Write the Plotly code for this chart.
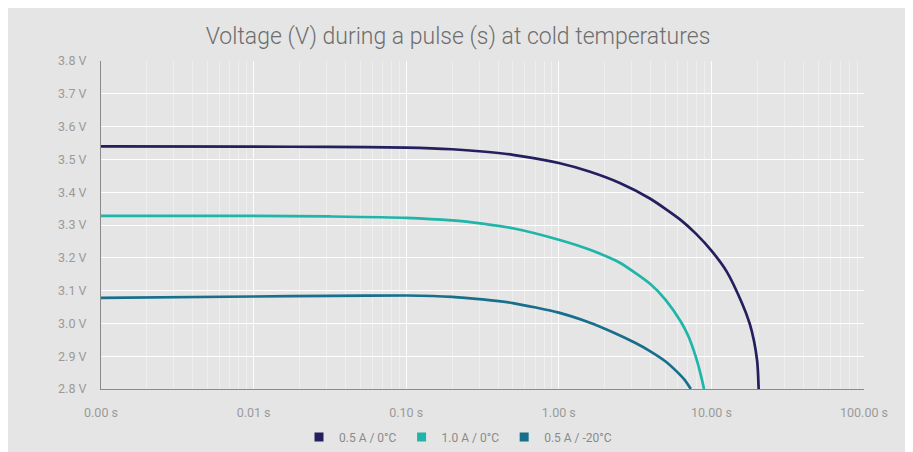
import plotly.graph_objects as go

# ---- data ----
t_a = [0.001, 0.01, 0.0316, 0.1, 0.2, 0.316, 0.5, 1.0, 1.585, 2.51, 3.98, 6.31, 7.94, 10.0, 12.6, 15.85, 17.8, 19.05, 19.95, 20.2, 20.4]
v_a = [3.540, 3.539, 3.538, 3.536, 3.531, 3.524, 3.514, 3.489, 3.463, 3.428, 3.380, 3.315, 3.273, 3.222, 3.158, 3.062, 3.000, 2.945, 2.885, 2.850, 2.800]

t_b = [0.001, 0.01, 0.0316, 0.1, 0.2, 0.316, 0.5, 1.0, 1.585, 2.51, 3.98, 5.01, 6.31, 7.08, 7.94, 8.51, 8.95]
v_b = [3.328, 3.328, 3.326, 3.322, 3.314, 3.304, 3.290, 3.255, 3.225, 3.185, 3.120, 3.072, 3.005, 2.960, 2.895, 2.844, 2.800]

t_c = [0.001, 0.01, 0.0316, 0.1, 0.2, 0.316, 0.5, 1.0, 1.585, 2.24, 3.16, 3.98, 5.01, 6.03, 6.76, 7.33]
v_c = [3.078, 3.082, 3.084, 3.085, 3.081, 3.073, 3.062, 3.033, 3.003, 2.974, 2.941, 2.915, 2.884, 2.850, 2.825, 2.800]

names = ["0.5 A / 0°C", "1.0 A / 0°C", "0.5 A / -20°C"]
colors = ["#241f5e", "#1fb5a8", "#176f8c"]

x_tickvals = [0.001, 0.01, 0.1, 1, 10, 100]
x_ticktext = ["0.00 s", "0.01 s", "0.10 s", "1.00 s", "10.00 s", "100.00 s"]
y_tickvals = [2.8, 2.9, 3.0, 3.1, 3.2, 3.3, 3.4, 3.5, 3.6, 3.7, 3.8]
y_ticktext = [f"{v:.1f} V" for v in y_tickvals]

BG = "#e5e5e5"
FONT = "Roboto"

fig = go.Figure()
for t, v, n, c in zip([t_a, t_b, t_c], [v_a, v_b, v_c], names, colors):
    fig.add_trace(go.Scatter(x=t, y=v, mode="lines",
                             line=dict(color=c, width=2.7, shape="spline", smoothing=0.6),
                             name=n, showlegend=False, hoverinfo="skip"))
for n, c in zip(names, colors):
    fig.add_trace(go.Scatter(x=[None], y=[None], mode="markers", name=n,
                             marker=dict(symbol="square", size=9, color=c)))

W, H = 900, 444
L, R, T, B = 93, 44, 53, 63
pw = W - L - R
ph = H - T - B

fig.update_layout(
    width=W, height=H,
    margin=dict(l=L, r=R, t=T, b=B, autoexpand=False),
    paper_bgcolor=BG, plot_bgcolor=BG,
    title=dict(text="Voltage (V) during a pulse (s) at cold temperatures",
               x=0.5, xref="container", xanchor="center",
               y=1 - 28 / H, yref="container", yanchor="middle",
               font=dict(family=FONT, size=23, weight=300, color="#6e6e6e")),
    font=dict(family=FONT, size=12, color="#9a9a9a"),
    xaxis=dict(type="log", range=[-3, 2], tickvals=x_tickvals, ticktext=x_ticktext,
               showgrid=True, gridcolor="rgba(255,255,255,0.8)", gridwidth=1,
               minor=dict(showgrid=True, gridcolor="rgba(255,255,255,0.4)", gridwidth=1, dtick="D1"),
               showline=True, linecolor="#8a8a8a", linewidth=1, zeroline=False, ticks="",
               ticklabelstandoff=12,
               tickfont=dict(size=12.5, color="#9a9a9a")),
    yaxis=dict(range=[2.8, 3.8], tickvals=y_tickvals, ticktext=y_ticktext,
               showgrid=True, gridcolor="#ffffff", gridwidth=1,
               showline=True, linecolor="#8a8a8a", linewidth=1, zeroline=False, ticks="",
               ticklabelstandoff=11, tickfont=dict(size=12.5, color="#9a9a9a")),
    legend=dict(orientation="h", x=(W / 2 - L) / pw, xanchor="center",
                y=-(429 - (H - B)) / ph, yanchor="middle",
                font=dict(size=12, color="#8a8a8a"), bgcolor="rgba(0,0,0,0)",
                itemclick=False, itemdoubleclick=False),
    showlegend=True,
)

fig.write_html("out.html")
